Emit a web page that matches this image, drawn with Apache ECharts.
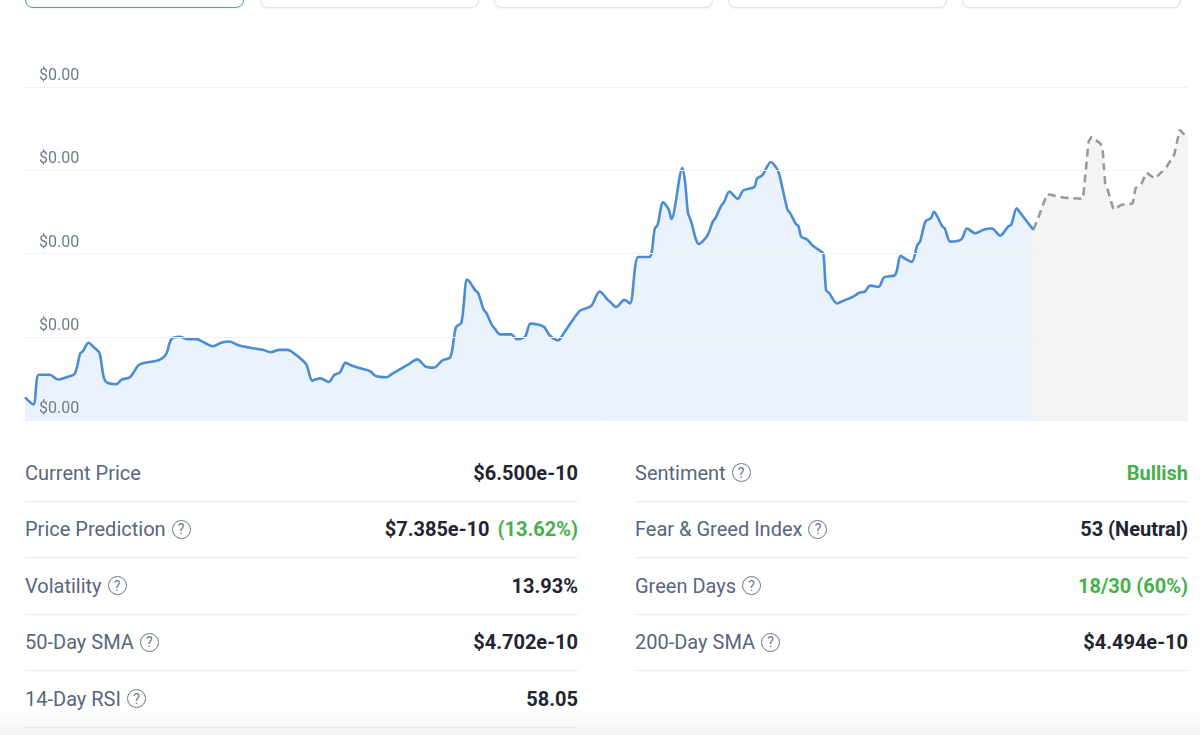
<!DOCTYPE html>
<html>
<head>
<meta charset="utf-8">
<script src="https://cdn.jsdelivr.net/npm/echarts@6/dist/echarts.min.js"></script>
<style>
  html, body { margin:0; padding:0; background:#fff; width:1200px; height:735px; overflow:hidden; font-family: Roboto, "Noto Sans", Arial, sans-serif; }
  #chart { position:absolute; left:0; top:0; width:1200px; height:430px; }
  .tab { position:absolute; top:-30px; height:38px; border:1px solid #dfe2e6; border-radius:8px; box-shadow:0 1px 2px rgba(0,0,0,0.06); background:#fff; box-sizing:border-box; }
  .tab.active { border:1.5px solid #5b93d3; }
  .col { position:absolute; top:445px; width:553px; }
  .row { height:56.5px; border-bottom:1.5px solid #e9ebee; box-sizing:border-box; display:flex; align-items:center; justify-content:space-between; }
  .lab { color:#58667e; font-size:20px; display:flex; align-items:center; }
  .q { display:inline-flex; width:19px; height:19px; border:1.3px solid #6b778a; border-radius:50%; color:#6b778a; font-size:14px; align-items:center; justify-content:center; margin-left:6px; box-sizing:border-box; line-height:1; }
  .val { color:#222531; font-size:20px; font-weight:700; }
  .green { color:#46b04a; }
  .shade { position:absolute; left:0; top:708px; width:1200px; height:27px; background:linear-gradient(#ffffff, #f3f4f5); }
</style>
</head>
<body>
<div id="tabs"></div>
<div id="chart"></div>
<div class="shade"></div>
<div class="col" id="leftCol" style="left:25px"></div>
<div class="col" id="rightCol" style="left:635px"></div>
<script>
// ---- Data (prices in units of 1e-10 USD) ----
const histDays = [0,3,5,9,12,15,18,20,21,23,25,27,29,33,35,38,41,43,48,51,53,56,59,62,65,68,71,74,77,81,86,89,92,95,98,101,102,104,105,107,110,112,114,116,118,122,125,127,131,133,136,139,142,145,148,151,154,156,158,160,161,163,164,166,167,169,170,172,176,178,181,183,186,188,190,193,195,198,201,205,208,211,212,214,217,219,222,226,228,229,231,233,234,238,239,240,241,244,247,249,250,252,253,255,258,260,264,265,267,270,272,273,276,277,279,280,281,283,285,288,289,290,291,294,296,300,302,304,306,309,311,315,317,319,321,323,324,326,328,329,332,333,335,339,341,344,347,350,353,356,357,359,360,363,365];
const histPrice = [5.09,5.03,5.28,5.28,5.24,5.26,5.29,5.46,5.48,5.55,5.51,5.46,5.23,5.20,5.24,5.26,5.36,5.38,5.40,5.45,5.58,5.60,5.58,5.58,5.55,5.52,5.55,5.56,5.53,5.51,5.49,5.47,5.49,5.49,5.45,5.39,5.36,5.23,5.24,5.25,5.22,5.28,5.30,5.38,5.36,5.33,5.31,5.27,5.26,5.29,5.33,5.37,5.41,5.35,5.34,5.40,5.43,5.68,5.72,6.08,6.06,5.99,5.97,5.83,5.80,5.70,5.67,5.62,5.62,5.58,5.60,5.71,5.70,5.68,5.61,5.57,5.63,5.73,5.82,5.86,5.98,5.91,5.89,5.85,5.91,5.88,6.27,6.27,6.51,6.54,6.73,6.67,6.59,7.02,6.89,6.64,6.58,6.38,6.45,6.57,6.60,6.70,6.73,6.82,6.76,6.83,6.86,6.93,6.96,7.07,7.02,6.97,6.67,6.64,6.55,6.53,6.44,6.42,6.37,6.32,6.30,5.99,5.97,5.88,5.90,5.94,5.97,5.98,6.03,6.02,6.10,6.12,6.28,6.25,6.23,6.37,6.40,6.57,6.60,6.65,6.53,6.51,6.40,6.42,6.51,6.47,6.50,6.51,6.45,6.53,6.54,6.68,6.65,6.56,6.50];
const predDays = [365,367,368,370,372,376,383,385,386,389,390,391,392,394,397,401,402,404,406,409,413,416,418,421];
const predPrice = [6.50,6.61,6.68,6.80,6.79,6.77,6.76,7.24,7.28,7.23,7.20,6.89,6.83,6.67,6.71,6.72,6.85,6.88,6.98,6.93,7.02,7.13,7.34,7.27];
const priceUnit = 1e-10;
const yMin = 4.9, yMax = 7.7, yStep = 0.7;
const dayMax = 421;

const leftLabels = ["Current Price","Price Prediction","Volatility","50-Day SMA","14-Day RSI"];
const leftHelp   = [false,true,true,true,true];
const leftValues = ["$6.500e-10","$7.385e-10","13.93%","$4.702e-10","58.05"];
const leftExtra  = ["","(13.62%)","","",""];
const rightLabels = ["Sentiment","Fear & Greed Index","Green Days","200-Day SMA"];
const rightValues = ["Bullish","53 (Neutral)","18/30 (60%)","$4.494e-10"];
const rightGreen  = [true,false,true,false];

// ---- Tabs ----
const tabLefts = [25,260,494,728,962];
const tabsEl = document.getElementById('tabs');
tabLefts.forEach((l,i)=>{
  const d = document.createElement('div');
  d.className = 'tab' + (i===0?' active':'');
  d.style.left = l+'px'; d.style.width = '219px';
  tabsEl.appendChild(d);
});

// ---- Table ----
function addRow(col, label, help, value, extra, green) {
  const r = document.createElement('div'); r.className='row';
  const lab = document.createElement('div'); lab.className='lab';
  lab.appendChild(document.createTextNode(label));
  if (help) { const q=document.createElement('span'); q.className='q'; q.textContent='?'; lab.appendChild(q); }
  const v = document.createElement('div'); v.className='val' + (green?' green':'');
  v.textContent = value;
  if (extra) { const e=document.createElement('span'); e.className='green'; e.style.marginLeft='8px'; e.textContent=extra; v.appendChild(e); }
  r.appendChild(lab); r.appendChild(v); col.appendChild(r);
}
const lc = document.getElementById('leftCol'), rc = document.getElementById('rightCol');
leftLabels.forEach((l,i)=>addRow(lc,l,leftHelp[i],leftValues[i],leftExtra[i],false));
rightLabels.forEach((l,i)=>addRow(rc,l,true,rightValues[i],'',rightGreen[i]));

// ---- Chart ----
const chart = echarts.init(document.getElementById('chart'), null, {renderer:'canvas'});
chart.setOption({
  animation:false,
  grid:{ left:25, right:12, top:87, bottom:10 },
  xAxis:{ type:'value', min:0, max:dayMax, show:false },
  yAxis:{
    type:'value', min:yMin, max:yMax, interval:yStep,
    axisLine:{show:false}, axisTick:{show:false},
    splitLine:{ lineStyle:{ color:'#f1f2f4', width:1 } },
    axisLabel:{
      inside:true, margin:14, verticalAlign:'bottom', padding:[0,0,3,0],
      showMinLabel:true, showMaxLabel:true, hideOverlap:false,
      color:'#6f7b8c', fontSize:16, fontFamily:'Roboto',
      formatter: v => '$' + (v*priceUnit).toFixed(2)
    },
    z:5
  },
  series:[
    {
      type:'line', data: histDays.map((d,i)=>[d, histPrice[i]]),
      showSymbol:false, smooth:0.3,
      lineStyle:{ color:'#4a8dd5', width:2.6 },
      areaStyle:{ color:'#eaf2fb', origin:'start', opacity:1 },
      z:3
    },
    {
      type:'line', data: predDays.map((d,i)=>[d, predPrice[i]]),
      showSymbol:false, smooth:false,
      lineStyle:{ color:'#9a9a9a', width:2.6, type:[8,5] },
      areaStyle:{ color:'#f4f4f4', origin:'start', opacity:1 },
      z:2
    }
  ]
});
</script>
</body>
</html>
